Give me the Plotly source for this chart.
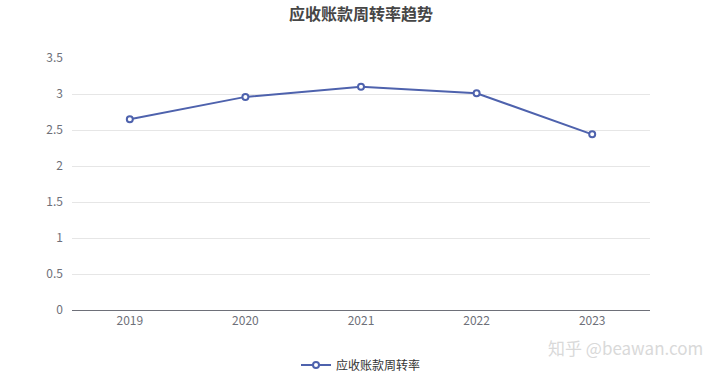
import plotly.graph_objects as go

years = ["2019", "2020", "2021", "2022", "2023"]
turnover = [2.65, 2.96, 3.10, 3.01, 2.44]
series_name = "应收账款周转率"
title_text = "应收账款周转率趋势"
y_ticks = [0, 0.5, 1, 1.5, 2, 2.5, 3, 3.5]

font_family = "Noto Sans CJK SC, Noto Sans, sans-serif"

fig = go.Figure()
fig.add_trace(go.Scatter(
    x=years, y=turnover, name=series_name, mode="lines+markers",
    line=dict(color="#4e62ad", width=2),
    marker=dict(symbol="circle", size=6, color="white",
                line=dict(color="#4e62ad", width=2)),
))

fig.update_layout(
    width=720, height=376,
    margin=dict(l=72, r=70, t=58, b=66, autoexpand=False),
    paper_bgcolor="white", plot_bgcolor="white",
    font=dict(family=font_family, color="#6e7079", size=12),
    title=dict(text="<b>" + title_text + "</b>", x=0.5, xanchor="center",
               xref="paper", yref="container",
               y=1 - 14 / 376, yanchor="middle",
               font=dict(size=16, color="#464646", family=font_family)),
    xaxis=dict(type="category", range=[-0.5, 4.5], showgrid=False,
               showline=True, linecolor="#6e7079", linewidth=1,
               ticks="", tickfont=dict(size=12, color="#6e7079"),
               zeroline=False, fixedrange=True),
    yaxis=dict(range=[0, 3.5], tickvals=y_ticks,
               ticktext=[f"{v:g}" for v in y_ticks],
               showgrid=True, gridcolor="#e6e6e6", gridwidth=1,
               zeroline=False, showline=False, ticks="",
               ticklabelstandoff=8,
               tickfont=dict(size=12, color="#6e7079")),
    legend=dict(orientation="h", x=0.5, xanchor="center",
                yref="container", y=(376 - 365) / 376, yanchor="middle",
                font=dict(size=12, color="#333333"),
                bgcolor="rgba(0,0,0,0)"),
    showlegend=True,
)

fig.add_annotation(text="知乎 @beawan.com", xref="paper", yref="paper",
                   x=(705 - 72) / 578, y=-(347 - 310) / 252,
                   xanchor="right", yanchor="middle",
                   showarrow=False,
                   font=dict(size=17, color="#d9d9d9", family=font_family))

fig.write_html("out.html")
